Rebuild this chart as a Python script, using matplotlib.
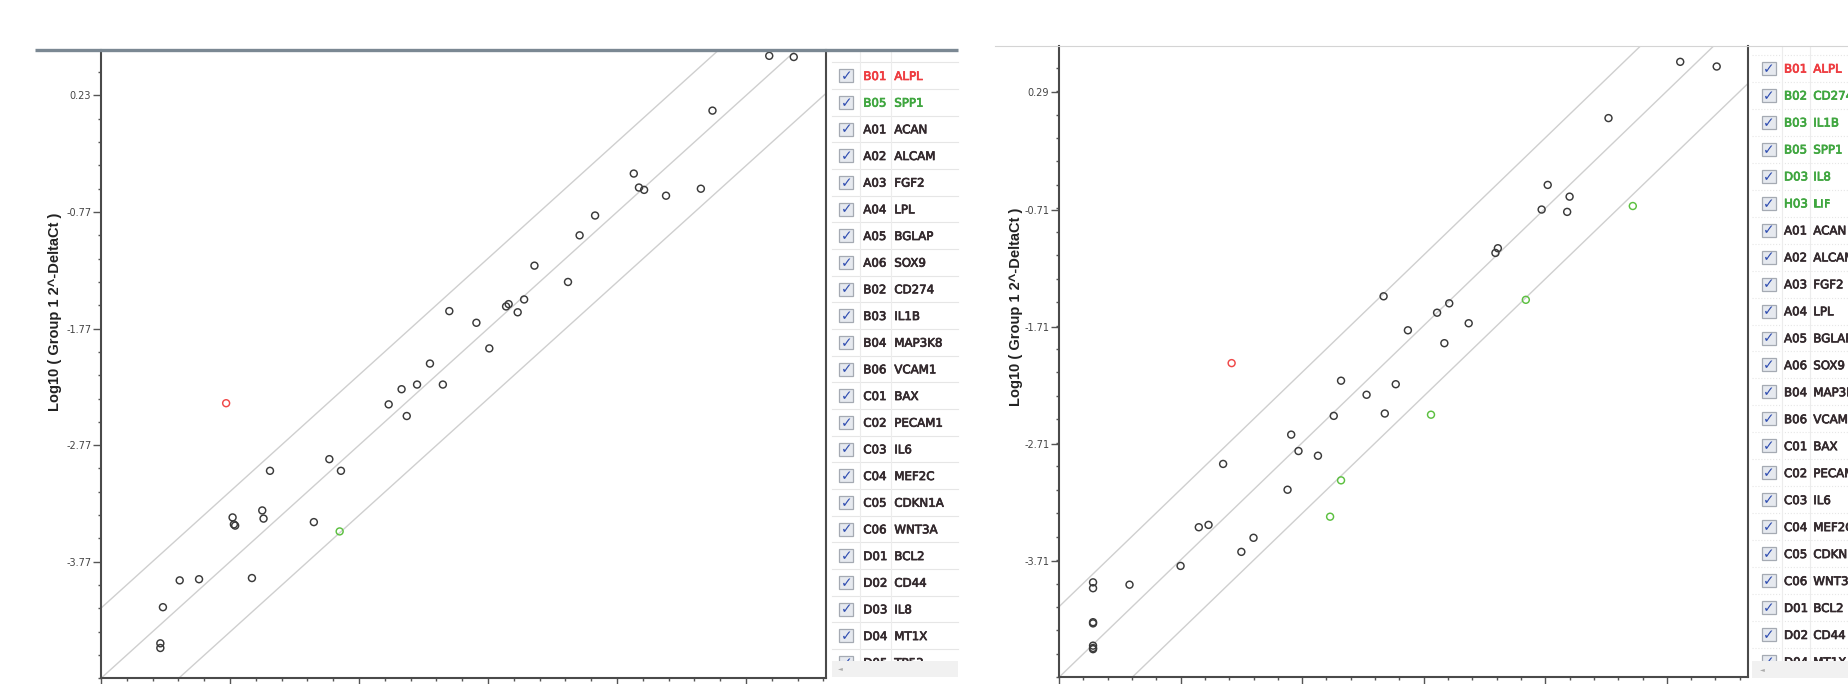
import numpy as np
import matplotlib.pyplot as plt
import matplotlib.patheffects as pe
from matplotlib.patches import Rectangle
from matplotlib import font_manager

W, H = 1848, 684

# =================================
# Data: Log10(2^-DeltaCt), x = group 2, y = group 1
# =================================
# Left comparison
left_x = [0.41, 0.60, -0.03, -0.64, -0.60, -0.56, -0.39, -0.12, -0.94, -1.06,
          -1.41, -1.15, -1.61, -1.63, -1.49, -1.54, -2.07, -1.86, -1.76, -2.22,
          -2.44, -2.32, -2.12, -2.54, -2.40, -3.00, -2.91, -3.46, -3.52, -3.51,
          -3.75, -3.74, -3.73, -3.12, -4.16, -4.01, -3.60, -4.29, -4.31, -4.31]
left_y = [0.57, 0.56, 0.10, -0.44, -0.56, -0.58, -0.63, -0.57, -0.80, -0.97,
          -1.23, -1.37, -1.56, -1.58, -1.52, -1.63, -1.62, -1.72, -1.94, -2.07,
          -2.29, -2.25, -2.25, -2.42, -2.52, -2.89, -2.99, -2.99, -3.33, -3.40,
          -3.39, -3.45, -3.46, -3.43, -3.93, -3.92, -3.91, -4.16, -4.47, -4.51]
left_up_x, left_up_y = [-3.80], [-2.41]          # ALPL
left_down_x, left_down_y = [-2.92], [-3.51]      # SPP1

# Right comparison
right_x = [0.41, 0.71, -0.18, -0.68, -0.50, -0.73, -0.52, -1.09, -1.11, -2.03,
           -1.83, -1.59, -1.49, -1.33, -1.53, -2.38, -2.17, -1.93, -2.02, -2.44,
           -2.79, -2.73, -2.57, -3.35, -2.82, -3.55, -3.47, -3.10, -3.20, -3.70,
           -4.12, -4.42, -4.42, -4.42, -4.42, -4.42, -4.42, -4.42]
right_y = [0.55, 0.51, 0.07, -0.50, -0.60, -0.71, -0.73, -1.04, -1.08, -1.45,
           -1.74, -1.59, -1.51, -1.68, -1.85, -2.17, -2.29, -2.20, -2.45, -2.47,
           -2.63, -2.77, -2.81, -2.88, -3.10, -3.42, -3.40, -3.51, -3.63, -3.75,
           -3.91, -3.89, -3.94, -4.23, -4.24, -4.43, -4.45, -4.46]
right_up_x, right_up_y = [-3.28], [-2.02]                                   # ALPL
right_down_x = [0.02, -0.86, -1.64, -2.38, -2.47]                           # CD274, IL1B, SPP1, IL8, LIF
right_down_y = [-0.68, -1.48, -2.46, -3.02, -3.33]

# axis ranges and tick values
left_xlim, left_ylim = (-4.77, 0.85), (-4.77, 0.62)
left_xticks = [-4.77, -3.77, -2.77, -1.77, -0.77, 0.23]
left_yticks = [-3.77, -2.77, -1.77, -0.77, 0.23]
right_xlim, right_ylim = (-4.70, 0.97), (-4.70, 0.685)
right_xticks = [-4.70, -3.70, -2.70, -1.70, -0.70, 0.30]
right_yticks = [-3.71, -2.71, -1.71, -0.71, 0.29]

fold = 4  # fold-change boundary lines

# gene lists beside each plot
left_codes = ["B01", "B05", "A01", "A02", "A03", "A04", "A05", "A06", "B02", "B03", "B04", "B06",
              "C01", "C02", "C03", "C04", "C05", "C06", "D01", "D02", "D03", "D04", "D05"]
left_genes = ["ALPL", "SPP1", "ACAN", "ALCAM", "FGF2", "LPL", "BGLAP", "SOX9", "CD274", "IL1B", "MAP3K8", "VCAM1",
              "BAX", "PECAM1", "IL6", "MEF2C", "CDKN1A", "WNT3A", "BCL2", "CD44", "IL8", "MT1X", "TP53"]
left_up_genes, left_down_genes = ["ALPL"], ["SPP1"]

right_codes = ["B01", "B02", "B03", "B05", "D03", "H03", "A01", "A02", "A03", "A04", "A05", "A06",
               "B04", "B06", "C01", "C02", "C03", "C04", "C05", "C06", "D01", "D02", "D04"]
right_genes = ["ALPL", "CD274", "IL1B", "SPP1", "IL8", "LIF", "ACAN", "ALCAM", "FGF2", "LPL", "BGLAP", "SOX9",
               "MAP3K8", "VCAM1", "BAX", "PECAM1", "IL6", "MEF2C", "CDKN1A", "WNT3A", "BCL2", "CD44", "MT1X"]
right_up_genes, right_down_genes = ["ALPL"], ["CD274", "IL1B", "SPP1", "IL8", "LIF"]

# colours
GREY_PT, RED_PT, GREEN_PT = "#3a3a3a", "#f04848", "#5cc040"
DARK_T, RED_T, GREEN_T = "#33292d", "#ee3b3f", "#3fa63f"

fig = plt.figure(figsize=(W / 100, H / 100), dpi=100)


def px_axes(x0, y0, x1, y1):
    """Axes from pixel box (top-left origin)."""
    return fig.add_axes([x0 / W, 1 - y1 / H, (x1 - x0) / W, (y1 - y0) / H])


def scatter_panel(ax, xs, ys, ux, uy, dx, dy, xlim, ylim, xticks, yticks):
    ax.set_xlim(*xlim)
    ax.set_ylim(*ylim)
    # fold-change guide lines
    for off in (np.log10(fold), 0, -np.log10(fold)):
        ax.axline((0, off), slope=1, color="#cfcfcf", lw=1.0, zorder=1)
    kw = dict(s=25, facecolors="none", linewidths=1.05, zorder=3)
    ax.scatter(xs, ys, edgecolors=GREY_PT, **kw)
    ax.scatter(ux, uy, edgecolors=RED_PT, **kw)
    ax.scatter(dx, dy, edgecolors=GREEN_PT, **kw)

    ax.set_xticks(xticks, labels=[])
    ax.set_yticks(yticks, labels=[f"{v:.2f}" for v in yticks])
    ax.set_xticks(np.arange(xlim[0], xlim[1], 0.2), minor=True)
    ax.set_yticks(np.arange(ylim[0], ylim[1], 0.2), minor=True)
    ax.tick_params(which="both", direction="out", color="#555555", width=1.0,
                   labelsize=7, labelcolor="#444444", pad=1.5)
    ax.tick_params(which="major", length=5.5)
    ax.tick_params(which="minor", length=2.4)
    ax.spines["top"].set_visible(False)
    for s in ("left", "right", "bottom"):
        ax.spines[s].set_color("#4a4a4a")
        ax.spines[s].set_linewidth(1.5)


axL = px_axes(101, 50, 826, 678.3)
scatter_panel(axL, left_x, left_y, left_up_x, left_up_y, left_down_x, left_down_y,
              left_xlim, left_ylim, left_xticks, left_yticks)
axR = px_axes(1059, 46, 1748.3, 677.3)
scatter_panel(axR, right_x, right_y, right_up_x, right_up_y, right_down_x, right_down_y,
              right_xlim, right_ylim, right_xticks, right_yticks)

# overlay in pixel coordinates for frame lines and gene lists
ov = fig.add_axes([0, 0, 1, 1])
ov.set_xlim(0, W)
ov.set_ylim(H, 0)
ov.axis("off")
ov.set_zorder(5)

ov.plot([35, 958], [50, 50], color="#7b8893", lw=2.4, solid_capstyle="butt")
ov.plot([995, W], [46, 46], color="#d4d4d4", lw=0.8)

names = {f.name for f in font_manager.fontManager.ttflist}
if "Liberation Sans Narrow" in names:
    lab_kw = dict(family="Liberation Sans Narrow", fontsize=12.5)
else:
    lab_kw = dict(family="Liberation Sans", fontsize=10.5)
label = "Log10 ( Group 1 2^-DeltaCt )"
ov.text(55.5, 311.5, label, rotation=90, ha="center", va="center",
        fontweight="bold", color="#222222", **lab_kw)
ov.text(1016, 307, label, rotation=90, ha="center", va="center",
        fontweight="bold", color="#222222", **lab_kw)


def gene_list(codes, genes, up, down, x0, x1, y_top, y_first, pitch,
              box_x, code_x, gene_x, seps, ls, scroll_top, scroll_bot):
    for i, (c, g) in enumerate(zip(codes, genes)):
        yc = y_first + i * pitch
        col = RED_T if g in up else GREEN_T if g in down else DARK_T
        thick = [pe.withStroke(linewidth=0.5, foreground=col)]
        ov.add_patch(Rectangle((box_x, yc - 6.5), 14, 13, fc="#e6e9ef", ec="#a5aab3",
                               lw=0.9, zorder=2))
        ov.text(box_x + 7, yc + 0.5, "\u2713", ha="center", va="center", fontsize=10,
                color="#2f4db0", fontweight="bold", zorder=2)
        ov.text(code_x, yc + 4.3, c, ha="left", va="baseline", fontsize=8.5,
                color=col, zorder=2, path_effects=thick)
        ov.text(gene_x, yc + 4.3, g, ha="left", va="baseline", fontsize=8.5,
                color=col, zorder=2, path_effects=thick)
        ov.plot([x0, x1], [yc - pitch / 2] * 2, color="#e6e6e6", lw=0.8, ls=ls, zorder=1)
    for sx in seps:
        ov.plot([sx, sx], [y_top, scroll_top], color="#ececec", lw=0.8, zorder=1)
    ov.add_patch(Rectangle((x0, scroll_top), x1 - x0, scroll_bot - scroll_top,
                           fc="#f1f1f1", ec="none", zorder=4))
    ov.text(box_x + 1, (scroll_top + scroll_bot) / 2, "\u25c4", ha="center", va="center",
            fontsize=4.5, color="#aaaaaa", zorder=5)


gene_list(left_codes, left_genes, left_up_genes, left_down_genes,
          831.7, 958, 51, 75.7, 26.67, 839.3, 863.3, 894.3, (860, 891), "-", 660.5, 676.7)
gene_list(right_codes, right_genes, right_up_genes, right_down_genes,
          1752, W, 47, 68.3, 26.97, 1761.7, 1784, 1813.3, (1781.7, 1810), ":", 660.5, 678.3)

fig.savefig("out.png", dpi=100)
